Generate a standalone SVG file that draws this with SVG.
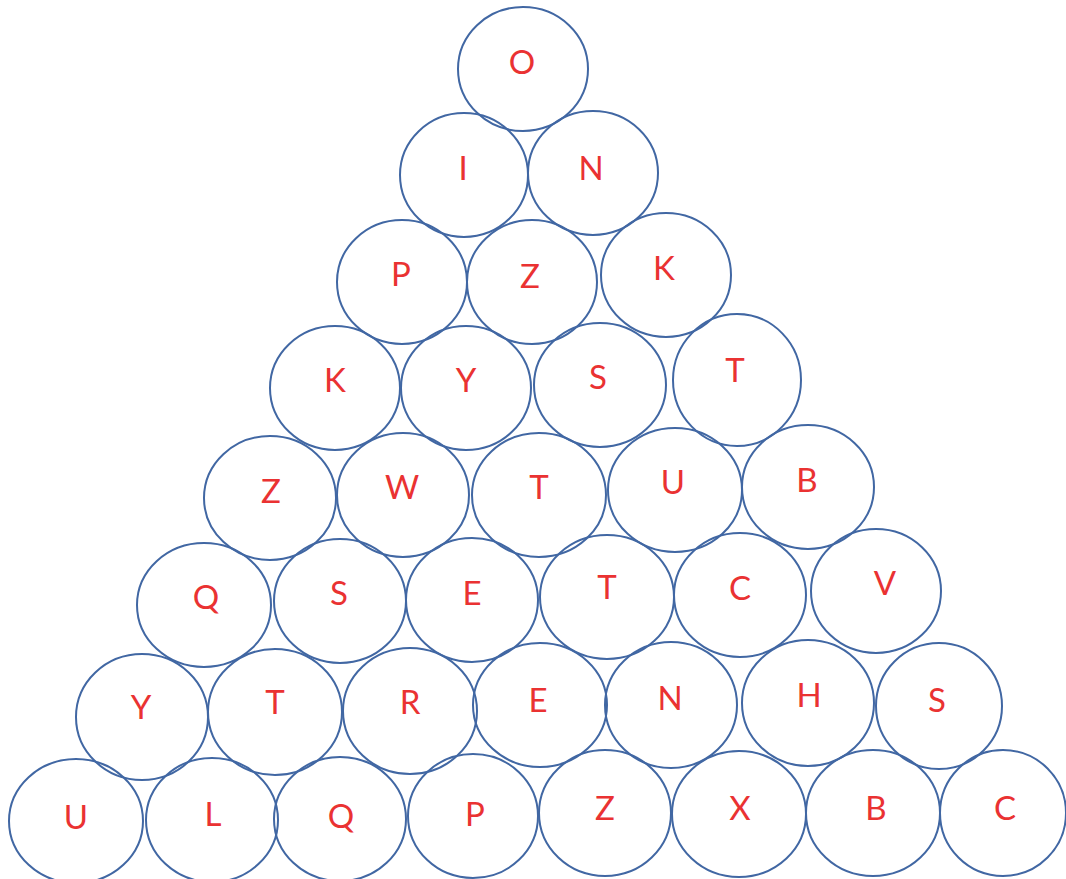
<svg xmlns="http://www.w3.org/2000/svg" width="1066" height="879" viewBox="0 0 1066 879">
<style>
.c{fill:none;stroke:#4167a3;stroke-width:2}
.t{font-family:Lato,"Open Sans","Liberation Sans",sans-serif;font-size:33px;fill:#ea3232;text-anchor:middle}
</style>
<rect width="1066" height="879" fill="#fff"/>
<g id="r1n1"><ellipse class="c" cx="523" cy="69" rx="65" ry="62"/><text class="t" x="522" y="74">O</text></g>
<g id="r2n1"><ellipse class="c" cx="464" cy="175" rx="64" ry="62"/><text class="t" x="463" y="180">I</text></g>
<g id="r2n2"><ellipse class="c" cx="593" cy="173" rx="65" ry="62"/><text class="t" x="591" y="180">N</text></g>
<g id="r3n1"><ellipse class="c" cx="402" cy="282" rx="65" ry="62"/><text class="t" x="401" y="286">P</text></g>
<g id="r3n2"><ellipse class="c" cx="532" cy="282" rx="65" ry="62"/><text class="t" x="530" y="288">Z</text></g>
<g id="r3n3"><ellipse class="c" cx="666" cy="275" rx="65" ry="62"/><text class="t" x="664" y="280">K</text></g>
<g id="r4n1"><ellipse class="c" cx="335" cy="388" rx="65" ry="62"/><text class="t" x="335" y="392">K</text></g>
<g id="r4n2"><ellipse class="c" cx="466" cy="388" rx="65" ry="62"/><text class="t" x="466" y="392">Y</text></g>
<g id="r4n3"><ellipse class="c" cx="600" cy="385" rx="66" ry="62"/><text class="t" x="598" y="389">S</text></g>
<g id="r4n4"><ellipse class="c" cx="737" cy="380" rx="64" ry="66"/><text class="t" x="735" y="382">T</text></g>
<g id="r5n1"><ellipse class="c" cx="270" cy="498" rx="66" ry="62"/><text class="t" x="271" y="503">Z</text></g>
<g id="r5n2"><ellipse class="c" cx="403" cy="495" rx="66" ry="62"/><text class="t" x="402" y="499">W</text></g>
<g id="r5n3"><ellipse class="c" cx="539" cy="495" rx="67" ry="62"/><text class="t" x="539" y="499">T</text></g>
<g id="r5n4"><ellipse class="c" cx="675" cy="490" rx="67" ry="62"/><text class="t" x="673" y="494">U</text></g>
<g id="r5n5"><ellipse class="c" cx="808" cy="487" rx="66" ry="62"/><text class="t" x="807" y="492">B</text></g>
<g id="r6n1"><ellipse class="c" cx="204" cy="605" rx="67" ry="62"/><text class="t" x="206" y="609">Q</text></g>
<g id="r6n2"><ellipse class="c" cx="340" cy="601" rx="66" ry="62"/><text class="t" x="339" y="605">S</text></g>
<g id="r6n3"><ellipse class="c" cx="472" cy="600" rx="66" ry="62"/><text class="t" x="472" y="605">E</text></g>
<g id="r6n4"><ellipse class="c" cx="607" cy="597" rx="67" ry="62"/><text class="t" x="607" y="599">T</text></g>
<g id="r6n5"><ellipse class="c" cx="740" cy="595" rx="66" ry="62"/><text class="t" x="740" y="600">C</text></g>
<g id="r6n6"><ellipse class="c" cx="876" cy="591" rx="65" ry="62"/><text class="t" x="885" y="595">V</text></g>
<g id="r7n1"><ellipse class="c" cx="142" cy="717" rx="66" ry="63"/><text class="t" x="141" y="719">Y</text></g>
<g id="r7n2"><ellipse class="c" cx="275" cy="712" rx="67" ry="63"/><text class="t" x="275" y="714">T</text></g>
<g id="r7n3"><ellipse class="c" cx="410" cy="711" rx="67" ry="63"/><text class="t" x="410" y="714">R</text></g>
<g id="r7n4"><ellipse class="c" cx="540" cy="705" rx="67" ry="62"/><text class="t" x="538" y="712">E</text></g>
<g id="r7n5"><ellipse class="c" cx="671" cy="705" rx="66" ry="63"/><text class="t" x="670" y="710">N</text></g>
<g id="r7n6"><ellipse class="c" cx="808" cy="703" rx="66" ry="63"/><text class="t" x="809" y="707">H</text></g>
<g id="r7n7"><ellipse class="c" cx="939" cy="706" rx="63" ry="63"/><text class="t" x="937" y="712">S</text></g>
<g id="r8n1"><ellipse class="c" cx="76" cy="821" rx="67" ry="62"/><text class="t" x="76" y="829">U</text></g>
<g id="r8n2"><ellipse class="c" cx="212" cy="820" rx="66" ry="62"/><text class="t" x="213" y="826">L</text></g>
<g id="r8n3"><ellipse class="c" cx="340" cy="819" rx="66" ry="62"/><text class="t" x="341" y="828">Q</text></g>
<g id="r8n4"><ellipse class="c" cx="473" cy="816" rx="65" ry="62"/><text class="t" x="475" y="826">P</text></g>
<g id="r8n5"><ellipse class="c" cx="605" cy="813" rx="66" ry="63"/><text class="t" x="605" y="820">Z</text></g>
<g id="r8n6"><ellipse class="c" cx="739" cy="814" rx="67" ry="63"/><text class="t" x="740" y="820">X</text></g>
<g id="r8n7"><ellipse class="c" cx="873" cy="813" rx="67" ry="63"/><text class="t" x="876" y="820">B</text></g>
<g id="r8n8"><ellipse class="c" cx="1003" cy="813" rx="63" ry="63"/><text class="t" x="1005" y="820">C</text></g>
<g id="connectors"/>
</svg>
